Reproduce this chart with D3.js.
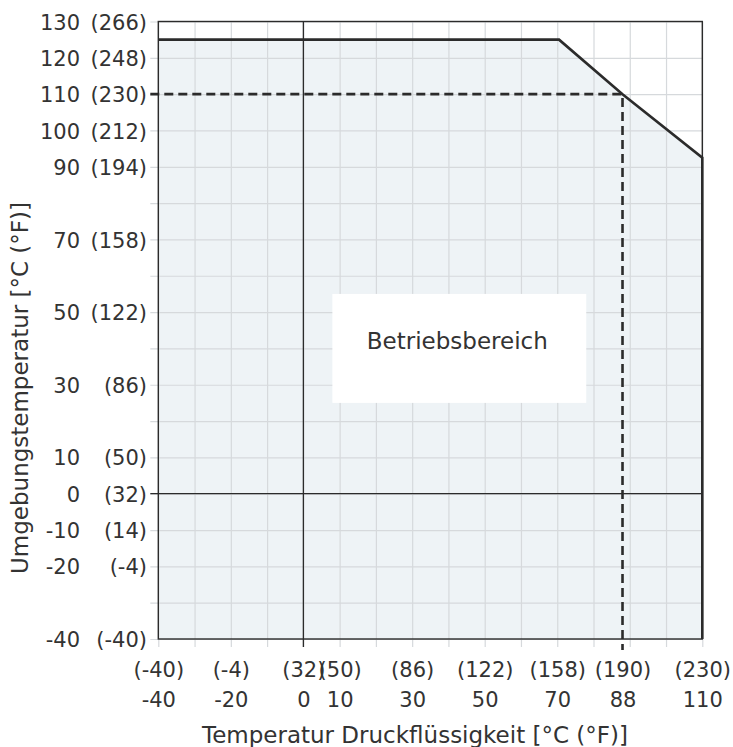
<!DOCTYPE html>
<html><head><meta charset="utf-8">
<script src="https://cdn.jsdelivr.net/npm/d3@7"></script>
<style>
body{margin:0;background:#fff}
svg text{font-family:"DejaVu Sans",sans-serif;fill:#333}
</style></head><body><svg id="c" width="733" height="747"></svg>
<script>
// ---- data ----
const xTicksC = [-40, -20, 0, 10, 30, 50, 70, 88, 110];
const xTicksF = [-40, -4, 32, 50, 86, 122, 158, 190, 230];
const yTicksC = [130, 120, 110, 100, 90, 70, 50, 30, 10, 0, -10, -20, -40];
const yTicksF = [266, 248, 230, 212, 194, 158, 122, 86, 50, 32, 14, -4, -40];
const gridX = [-40, -30, -20, -10, 0, 10, 20, 30, 40, 50, 60, 70, 80, 90, 100, 110];
const gridY = [-40, -30, -20, -10, 0, 10, 20, 30, 40, 50, 60, 70, 80, 90, 100, 110, 120, 130];
const limitX = [-40, 70.5, 88, 110, 110];
const limitY = [125, 125, 110, 92.5, -40];
const markX = 88, markY = 110;
const labelBoxX = [8, 78], labelBoxY = [25, 55];
const xTitle = "Temperatur Druckflüssigkeit [°C (°F)]";
const yTitle = "Umgebungstemperatur [°C (°F)]";
const areaLabel = "Betriebsbereich";

// ---- layout ----
const L = 158.3, R = 702.3, T = 21.5, B = 639;
const x = d3.scaleLinear().domain([-40, 110]).range([L, R]);
const y = d3.scaleLinear().domain([-40, 130]).range([B, T]);
const svg = d3.select("#c");
const dark = "#2b2b2b";

// operating area fill
const areaPts = [[-40, -40]].concat(limitX.map((v, i) => [v, limitY[i]]));
svg.append("path")
  .attr("d", d3.line().x(d => x(d[0])).y(d => y(d[1]))(areaPts) + "Z")
  .attr("fill", "#eef3f6");

// grid (extends as ticks beyond plot on left and bottom)
const gGridX = svg.append("g").attr("transform", `translate(0,${B + 8})`)
  .call(d3.axisBottom(x).tickValues(gridX).tickSize(-(B + 8 - T)).tickFormat(""));
gGridX.select(".domain").remove();
gGridX.selectAll("line").attr("stroke", "#d6d9dc").attr("stroke-width", 1.2);
const gGridY = svg.append("g").attr("transform", `translate(${L - 8},0)`)
  .call(d3.axisLeft(y).tickValues(gridY).tickSize(-(R - L + 8)).tickFormat(""));
gGridY.select(".domain").remove();
gGridY.selectAll("line").attr("stroke", "#d6d9dc").attr("stroke-width", 1.2);

// label box
svg.append("rect")
  .attr("x", x(labelBoxX[0])).attr("y", y(labelBoxY[1]))
  .attr("width", x(labelBoxX[1]) - x(labelBoxX[0]))
  .attr("height", y(labelBoxY[0]) - y(labelBoxY[1]))
  .attr("fill", "#fff");
svg.append("text")
  .attr("x", (x(labelBoxX[0]) + x(labelBoxX[1])) / 2 - 2)
  .attr("y", (y(labelBoxY[0]) + y(labelBoxY[1])) / 2 + 1)
  .attr("text-anchor", "middle").attr("font-size", 23)
  .text(areaLabel);

// zero lines
svg.append("line").attr("x1", x(0)).attr("x2", x(0)).attr("y1", T).attr("y2", B + 8)
  .attr("stroke", dark).attr("stroke-width", 1.3);
svg.append("line").attr("x1", L - 8).attr("x2", R).attr("y1", y(0)).attr("y2", y(0))
  .attr("stroke", dark).attr("stroke-width", 1.3);

// frame
svg.append("rect").attr("x", L).attr("y", T).attr("width", R - L).attr("height", B - T)
  .attr("fill", "none").attr("stroke", dark).attr("stroke-width", 1.4);

// dashed marker lines
svg.append("path")
  .attr("d", `M${L - 8},${y(markY)}H${x(markX)}V${B + 11}`)
  .attr("fill", "none").attr("stroke", dark).attr("stroke-width", 2.6)
  .attr("stroke-dasharray", "9,5");

// limit boundary
svg.append("path")
  .attr("d", d3.line().x((d, i) => x(d)).y((d, i) => y(limitY[i]))(limitX))
  .attr("fill", "none").attr("stroke", dark).attr("stroke-width", 2.6)
  .attr("stroke-linejoin", "miter");

// x tick labels
const gx = svg.append("g").attr("transform", `translate(0,${B})`)
  .call(d3.axisBottom(x).tickValues(xTicksC).tickSize(0).tickFormat(d => d));
gx.select(".domain").remove();
gx.attr("font-family", null).attr("font-size", 21);
gx.selectAll(".tick text").attr("y", 706.5 - B).attr("dy", null);
gx.selectAll(".tick").append("text")
  .attr("y", 677 - B).attr("text-anchor", "middle")
  .text((d, i) => `(${xTicksF[i]})`);

// y tick labels
const gy = svg.append("g").attr("transform", `translate(80,0)`)
  .call(d3.axisLeft(y).tickValues(yTicksC).tickSize(0).tickPadding(0).tickFormat(d => d));
gy.select(".domain").remove();
gy.attr("font-family", null).attr("font-size", 21);
gy.selectAll(".tick text").attr("x", 0).attr("dy", "0.36em");
gy.selectAll(".tick").append("text")
  .attr("x", 147 - 80).attr("dy", "0.36em").attr("text-anchor", "end")
  .text((d, i) => `(${yTicksF[i]})`);

// axis titles
svg.append("text").attr("x", 415).attr("y", 743).attr("text-anchor", "middle")
  .attr("font-size", 23).text(xTitle);
svg.append("text").attr("transform", "translate(28,388) rotate(-90)")
  .attr("text-anchor", "middle").attr("font-size", 23).text(yTitle);
</script></body></html>
